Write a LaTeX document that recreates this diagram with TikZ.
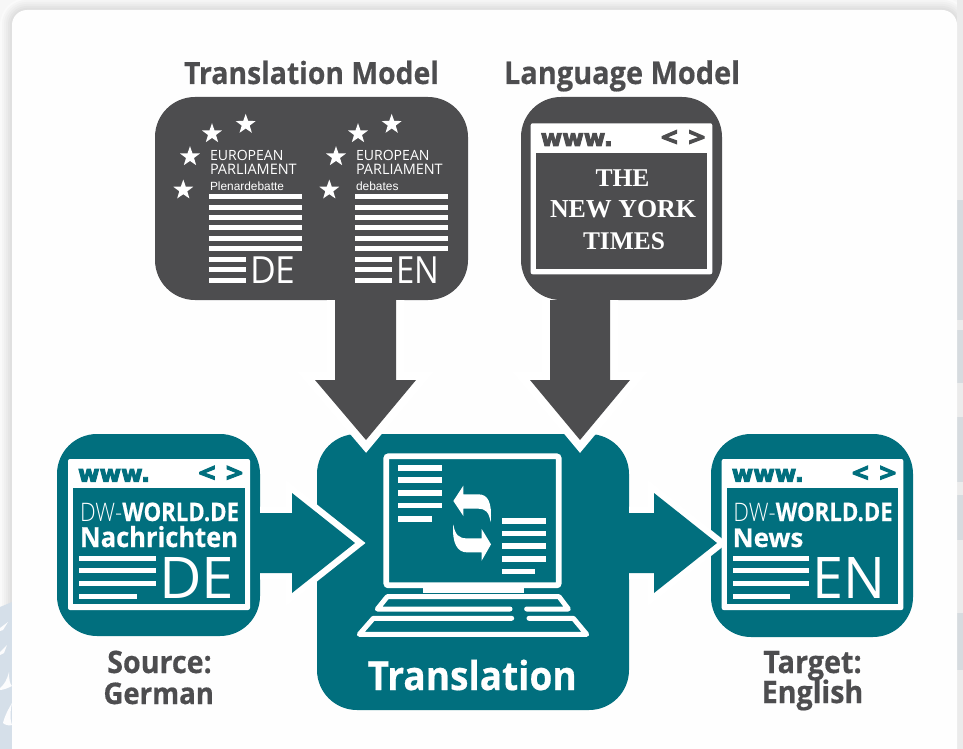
\documentclass[tikz,border=0pt]{standalone}
\usepackage{fontspec}
\usepackage{graphicx}
\setmainfont{Open Sans}[BoldFeatures={FakeBold=0.5}]
\newfontfamily\lightf{Open Sans Light}
\newfontfamily\helv{Liberation Sans}
\newfontfamily\timesf{Liberation Serif}
\newfontfamily\dejavu{DejaVu Sans}[BoldFeatures={FakeBold=4}]
\newfontfamily\chevf{Open Sans}[BoldFeatures={FakeBold=4}]
\usetikzlibrary{shapes.geometric}
\definecolor{teal}{HTML}{016F7E}
\definecolor{slate}{HTML}{4D4D4F}
\definecolor{haze}{HTML}{D5DFE9}
\newcommand{\fitw}[2]{\resizebox{#1pt}{!}{#2}}
\newcommand{\fitt}[2]{\scalebox{1}[1.08]{\resizebox{#1pt}{!}{#2}}}
\newcommand{\fitwh}[3]{\resizebox{#1pt}{#2pt}{#3}}
\tikzset{
  box/.style={inner sep=0pt, outer sep=0pt, rounded corners=40pt},
  tealbox/.style={box, fill=teal},
  slatebox/.style={box, fill=slate},
  label/.style={inner sep=0pt, outer sep=0pt, anchor=base west},
  slatearrow/.style={fill=slate, preaction={draw=white, line width=16.5pt, miter limit=20}},
  tealarrow/.style={fill=teal, preaction={draw=white, line width=13pt, miter limit=20}},
  bar/.style={fill=white, draw=none},
  eustar/.style={star, star points=5, star point ratio=2.5, fill=white, inner sep=0pt, minimum size=21pt},
  board/.style={draw=white, line width=5pt, line cap=round, line join=round},
}
% www-window: #1 left, #2 top, #3 right, #4 bottom of the window; #5 colour; #6 name prefix
\newcommand{\browser}[6]{
  \fill[white, rounded corners=2pt] (#1,#2) rectangle (#3,#4);
  \fill[#5] ({#1+5.3},{#2+29.3}) rectangle ({#3-5.3},{#4-5.7});
  \node[label, text=#5] (#6www) at ({#1+10},{#2+22.6}) {\fitwh{72}{12.6}{\dejavu\bfseries www.}};
  \node[label, text=#5] (#6lt) at ({#3-51.5},{#2+23}) {\fitwh{17}{16}{\chevf\bfseries\char"3C}};
  \node[label, text=#5] (#6gt) at ({#3-24},{#2+23}) {\fitwh{17}{16}{\chevf\bfseries\char"3E}};
}
\begin{document}
\begin{tikzpicture}[x=1pt,y=-1pt]
\useasboundingbox (0,0) rectangle (963,749);
% page and soft shadow
\fill[white!97!black] (0,0) rectangle (963,749);
\foreach \w/\g in {24/98,20/96,16/94,12/92,8/90,4/88}{
  \draw[line width=\w pt, black!\the\numexpr100-\g\relax!white, rounded corners=15pt] (12,10) rectangle (957,770);
}
\fill[haze] (0,607) -- (12,602) -- (12,749) -- (0,749) -- cycle;
\fill[white!92!haze] (0,628) -- (8,622) -- (3,630) -- (0,631) -- cycle;
\fill[white!92!haze] (0,652) -- (7,645) -- (4,653) -- (0,655) -- cycle;
\fill[white!92!haze] (0,688) .. controls (4,685) and (7,680) .. (9,672) .. controls (9,680) and (10,684) .. (12,686) .. controls (8,688) and (3,690) .. (0,690) -- cycle;
\fill[white!92!haze] (3,723) .. controls (5,715) and (9,708) .. (12,703) .. controls (10,712) and (10,720) .. (12,725) .. controls (9,726) and (5,725) .. (3,723) -- cycle;
\fill[gray!16] (957,0) rectangle (963,749);
\foreach \a/\b in {200/320,330/383,417/482,495/540,613/670}{
  \fill[haze!70!gray!60] (957,\a) rectangle (963,\b);
}
\fill[white!99.5!black, rounded corners=15pt] (12,10) rectangle (957,770);

% boxes
\node[slatebox, minimum width=313pt, minimum height=203pt] (tm) at (311.5,198.5) {};
\node[slatebox, minimum width=201pt, minimum height=203pt] (lm) at (621.5,198.5) {};
\node[tealbox, minimum width=203pt, minimum height=202pt] (src) at (158.5,535) {};
\node[tealbox, minimum width=202pt, minimum height=203pt] (tgt) at (812,535.5) {};
\node[tealbox, minimum width=312pt, minimum height=276pt] (tr) at (473,572) {};

% block arrows
\path[slatearrow] ([xshift=23.5pt]tm.south) -- ++(0,80) -- ++(-20,0) -- ++(51,60) -- ++(50,-60) -- ++(-20,0) -- ++(0,-80);
\path[slatearrow] ([xshift=-71.5pt]lm.south) -- ++(0,80) -- ++(-20,0) -- ++(50,60) -- ++(50,-60) -- ++(-20,0) -- ++(0,-80);
\path[tealarrow] ([yshift=22pt]src.east) -- ++(32,0) -- ++(0,-20) -- ++(63,50) -- ++(-63,50) -- ++(0,-20) -- ++(-32,0);
\path[tealarrow] ([yshift=59pt]tr.east) -- ++(25,0) -- ++(0,-20) -- ++(63,50) -- ++(-63,50) -- ++(0,-20) -- ++(-25,0);

% titles
\node[label, text=slate] (tmtitle) at (184,84) {\fitt{255}{\bfseries Translation Model}};
\node[label, text=slate] (lmtitle) at (504,84) {\fitt{236}{\bfseries Language Model}};

% European Parliament documents
\foreach \n/\dx/\sub/\subw/\lang/\langw in {a/0/Plenardebatte/74/DE/45.5, b/146/debates/42.6/EN/43}{
  \node[eustar] (\n s1) at ({245.7+\dx},124.3) {};
  \node[eustar] (\n s2) at ({212+\dx},133.7) {};
  \node[eustar] (\n s3) at ({190+\dx},156.7) {};
  \node[eustar] (\n s4) at ({183.3+\dx},190) {};
  \node[label, text=white] (\n eu) at ({210+\dx},160) {\fitw{73.5}{EUROPEAN}};
  \node[label, text=white] (\n pa) at ({210+\dx},175) {\fitw{86.7}{PARLIAMENT}};
  \node[label, text=white] (\n sub) at ({210+\dx},190) {\fitw{\subw}{\helv\sub}};
  \foreach \y in {194,204.7,215,225,236,246.3}{
    \fill[bar] ({209.3+\dx},\y) rectangle ({301.7+\dx},{\y+5});
  }
  \foreach \y in {257,267.3,277.7}{
    \fill[bar] ({209.3+\dx},\y) rectangle ({245.7+\dx},{\y+5});
  }
  \node[label, text=white] (\n lang) at ({250+\dx},283.3) {\fitwh{\langw}{26.7}{\lang}};
}

% New York Times window
\browser{530.7}{123.3}{712.3}{274.3}{slate}{nyt}
\node[label, anchor=base, text=white] (the) at (622.5,186) {\fitw{54}{\timesf\bfseries THE}};
\node[label, anchor=base, text=white] (ny) at (623,217.7) {\fitw{146}{\timesf\bfseries NEW YORK}};
\node[label, anchor=base, text=white] (times) at (624,249) {\fitw{82}{\timesf\bfseries TIMES}};

% Source window
\browser{68}{459}{250}{610}{teal}{s}
\node[label, text=white] (sdw) at (80,521) {\fitwh{159}{18.5}{\lightf DW-\normalfont\bfseries WORLD.DE}};
\node[label, text=white] (snews) at (80,547) {\fitwh{158}{21}{\bfseries Nachrichten}};
\foreach \y/\e in {556/156,568/156,581/156,594/137}{
  \fill[bar] (79,\y) rectangle (\e,{\y+4.6});
}
\node[label, text=white] (sde) at (159,598) {\fitwh{75}{41}{DE}};

% Target window
\browser{721.7}{459}{903.3}{610}{teal}{t}
\node[label, text=white] (tdw) at (733.3,521) {\fitwh{159.4}{18.5}{\lightf DW-\normalfont\bfseries WORLD.DE}};
\node[label, text=white] (tnews) at (732.7,547) {\fitwh{70.6}{18.5}{\bfseries News}};
\foreach \y/\e in {556/809.3,568/809.3,581/809.3,594/790}{
  \fill[bar] (732.7,\y) rectangle (\e,{\y+4.6});
}
\node[label, text=white] (ten) at (812,598) {\fitwh{73}{41}{EN}};

% captions
\node[label, anchor=base, text=slate] (cs1) at (159.5,673) {\fitt{104.5}{\bfseries Source:}};
\node[label, anchor=base, text=slate] (cs2) at (158.7,704) {\fitt{110.5}{\bfseries German}};
\node[label, anchor=base, text=slate] (ct1) at (812.5,673) {\fitt{98.4}{\bfseries Target:}};
\node[label, anchor=base, text=slate] (ct2) at (812.5,703) {\fitt{101.6}{\bfseries English}};

% laptop, in the coordinates of a 3x crop
\begin{scope}[shift={(315,430)},scale=1/3]
  \draw[white, line width=5.7pt, rounded corners=2pt] (214,79) rectangle (731,466);
  \fill[white] (323,458) rectangle (628,490);
  \foreach \y/\e in {105/382,142/382,180/382,218/382,258/350}{
    \fill[bar] (250,\y) rectangle (\e,{\y+17});
  }
  \foreach \y/\e in {265/692,302/692,340/692,378/692,416/660}{
    \fill[bar] (560,\y) rectangle (\e,{\y+17});
  }
  \fill[white] (415,213) -- (445,167) -- (445,193) -- (490,193) .. controls (518,193) and (532,215) .. (527,277)
     .. controls (522,245) and (510,236) .. (490,236) -- (445,236) -- (445,258) -- cycle;
  \fill[white] (528,343) -- (500,297) -- (500,325) -- (455,325) .. controls (432,325) and (420,315) .. (415,283)
     .. controls (410,340) and (428,367) .. (455,367) -- (500,367) -- (500,392) -- cycle;
  \draw[board] (585,537) -- (187,537) -- (217,500) -- (732,500) -- (760,537) -- (635,537);
  \draw[board] (590,565) -- (175,565) -- (133,613) -- (815,613) -- (775,565) -- (642,565);
\end{scope}
\node[label, text=white] (trt) at (367.7,690) {\fitt{209}{\bfseries Translation}};
\end{tikzpicture}
\end{document}
